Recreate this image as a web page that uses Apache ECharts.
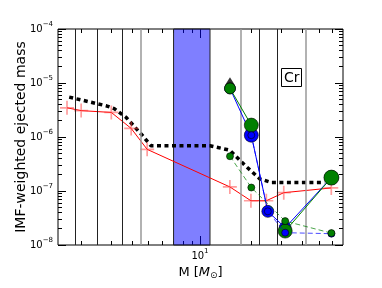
<!DOCTYPE html>
<html><head><meta charset="utf-8">
<script src="https://cdn.jsdelivr.net/npm/echarts@6/dist/echarts.min.js"></script>
<style>html,body{margin:0;padding:0;background:#fff}#c{width:382px;height:288px}</style>
</head><body><div id="c"></div>
<script>
// ---- data ----
const xMin = 1.47, xMax = 69;
const yMin = 1e-8, yMax = 1e-4;
const xMinorTicks = [2, 3, 4, 5, 6, 7, 8, 9, 20, 30, 40, 50, 60];
const xMajorTicks = [10];
const yMajorTicks = [1e-8, 1e-7, 1e-6, 1e-5, 1e-4];
const vLinesDark = [1.85, 2.5, 3.5, 22.2, 28.5];
const vLinesGrey = [4.5, 17.4, 41.7];
const bandRange = [7, 11.45];

const dottedMass = [1.71, 2.82, 3.14, 3.69, 4.58, 5.15, 11.44, 14.97, 18.33, 22.43, 26.27, 53.8];
const dottedVal = [5.47e-6, 3.78e-6, 3.35e-6, 2.30e-6, 1.08e-6, 6.9e-7, 6.9e-7, 5.69e-7, 3.0e-7, 1.68e-7, 1.43e-7, 1.43e-7];

const redMass = [1.66, 2.01, 3.02, 3.95, 4.9, 14.97, 19.9, 24.5, 31, 58.9];
const redVal = [3.47e-6, 3.08e-6, 2.85e-6, 1.44e-6, 5.9e-7, 1.19e-7, 6.6e-8, 6.6e-8, 9.3e-8, 1.14e-7];

const modelMass = [15, 20, 25, 31.6, 59];
const greenSolidVal = [7.94e-6, 1.66e-6, null, 1.81e-8, 1.77e-7];
const blueSolidVal = [7.94e-6, 1.08e-6, 4.2e-8, 2.09e-8, 1.77e-7];
const greenDashedVal = [4.4e-7, 1.16e-7, null, 2.77e-8, 1.66e-8];
const blueDashedVal = [null, 1.08e-6, 4.2e-8, 1.69e-8, 1.62e-8];
const crMarkerMass = [15];
const crMarkerVal = [9.1e-6];
const elementLabel = 'Cr';

// ---- styles ----
const greenSolidSize = [11, 14, 0, 14, 15];
const blueSolidSize = [11, 14, 12, 12, 14];
const FONT = 'DejaVu Sans';

const yMinorTicks = [];
for (let e = -8; e < -4; e++) for (let k = 2; k <= 9; k++) yMinorTicks.push(k * Math.pow(10, e));

const pairs = (xs, ys) => xs.map((x, i) => [x, ys[i] === null ? null : ys[i]]);
const sized = (xs, ys, sz) => xs.map((x, i) => ({ value: [x, ys[i]], symbolSize: sz[i] }));

const supRich = {
  a: { fontSize: 10, fontFamily: FONT, color: '#000', lineHeight: 16 },
  b: { fontSize: 7, fontFamily: FONT, color: '#000', verticalAlign: 'top', lineHeight: 16 }
};

function xAx(pos, ticks, len, label) {
  return {
    type: 'log', logBase: 10, min: xMin, max: xMax, position: pos, gridIndex: 0,
    axisLine: { show: false },
    axisTick: { show: true, inside: true, length: len, customValues: ticks, lineStyle: { color: '#000', width: 1 } },
    axisLabel: label ? {
      show: true, customValues: xMajorTicks, margin: 3,
      formatter: v => '{a|10}{b|' + Math.round(Math.log10(v)) + '}', rich: supRich
    } : { show: false },
    splitLine: { show: false }, minorTick: { show: false }
  };
}
function yAx(pos, ticks, len, label) {
  return {
    type: 'log', logBase: 10, min: yMin, max: yMax, position: pos, gridIndex: 0,
    axisLine: { show: false },
    axisTick: { show: true, inside: true, length: len, customValues: ticks, lineStyle: { color: '#000', width: 1 } },
    axisLabel: label ? {
      show: true, customValues: yMajorTicks, margin: 5,
      formatter: v => '{a|10}{b|\u2212' + Math.abs(Math.round(Math.log10(v))) + '}', rich: supRich
    } : { show: false },
    splitLine: { show: false }, minorTick: { show: false }
  };
}

const xAxes = [xAx('bottom', xMinorTicks, 4, true), xAx('bottom', xMajorTicks, 9, false),
               xAx('top', xMinorTicks, 4, false), xAx('top', xMajorTicks, 9, false)];
Object.assign(xAxes[0], {
  name: '{n|M [}{i|M}{s|\u2299}{n|]}', nameLocation: 'middle', nameGap: 18,
  nameTextStyle: { rich: {
    n: { fontSize: 13, fontFamily: FONT, color: '#000' },
    i: { fontSize: 13, fontFamily: FONT, fontStyle: 'italic', color: '#000' },
    s: { fontSize: 9, fontFamily: FONT, color: '#000', verticalAlign: 'bottom', padding: [6, 0, 0, 0] }
  } }
});
const yAxes = [yAx('left', yMinorTicks, 4, true), yAx('left', yMajorTicks, 8, false),
               yAx('right', yMinorTicks, 4, false), yAx('right', yMajorTicks, 8, false)];
Object.assign(yAxes[0], {
  name: 'IMF-weighted ejected mass', nameLocation: 'middle', nameGap: 30, nameMoveOverlap: false,
  nameTextStyle: { fontSize: 14, fontFamily: FONT, color: '#000' }
});

const circleItem = (c) => ({ color: c, borderColor: '#000', borderWidth: 0.6 });

const option = {
  animation: false,
  backgroundColor: '#fff',
  title: {
    text: elementLabel, left: 281, top: 68,
    padding: [3, 2, 2, 3], borderColor: '#000', borderWidth: 1, backgroundColor: '#fff',
    textStyle: { fontSize: 14, fontWeight: 'normal', fontFamily: FONT, color: '#000' }
  },
  grid: { left: 58, right: 39, top: 29, bottom: 43, show: true, borderColor: '#000', borderWidth: 1, backgroundColor: 'transparent' },
  xAxis: xAxes,
  yAxis: yAxes,
  series: [
    {
      name: 'bg', type: 'line', data: [], z: 1, silent: true,
      markArea: { silent: true, itemStyle: { color: 'rgba(0,0,255,0.5)', borderColor: '#222', borderWidth: 1 },
        data: [[{ xAxis: bandRange[0] }, { xAxis: bandRange[1] }]] },
      markLine: { silent: true, symbol: ['none', 'none'], label: { show: false },
        data: vLinesDark.map(m => ({ xAxis: m, lineStyle: { color: '#222', width: 1, type: 'solid' } }))
          .concat(vLinesGrey.map(m => ({ xAxis: m, lineStyle: { color: '#999', width: 1.5, type: 'solid' } }))) }
    },
    {
      name: 'total', type: 'line', data: pairs(dottedMass, dottedVal), z: 3, symbol: 'none',
      lineStyle: { color: '#000', width: 3.5, type: [4, 3.5], cap: 'butt' }
    },
    {
      name: 'red', type: 'line', data: pairs(redMass, redVal), z: 4,
      symbol: 'path://M0,4.4H10V5.6H0Z M4.4,0H5.6V10H4.4Z', symbolSize: 14, showAllSymbol: true,
      itemStyle: { color: 'rgba(255,60,60,0.5)' },
      lineStyle: { color: '#ff0000', width: 1 }
    },
    {
      name: 'blueSolid', type: 'line', data: sized(modelMass, blueSolidVal, blueSolidSize), z: 5,
      symbol: 'circle', showAllSymbol: true, itemStyle: circleItem('#0000ff'),
      lineStyle: { color: '#0000ff', width: 1 }
    },
    {
      name: 'marker', type: 'scatter', data: pairs(crMarkerMass, crMarkerVal), z: 5,
      symbol: 'diamond', symbolSize: [10, 16], itemStyle: { color: '#000' }
    },
    {
      name: 'greenSolid', type: 'line', data: sized(modelMass, greenSolidVal, greenSolidSize), z: 6,
      symbol: 'circle', showAllSymbol: true, itemStyle: circleItem('#008000'),
      lineStyle: { color: '#008000', width: 1 }
    },
    {
      name: 'blueDashed', type: 'line', data: pairs(modelMass, blueDashedVal), z: 7, connectNulls: true,
      symbol: 'circle', symbolSize: 7, showAllSymbol: true, itemStyle: circleItem('#0000ff'),
      lineStyle: { color: 'rgba(0,0,255,0.7)', width: 1, type: [5, 3] }
    },
    {
      name: 'greenDashed', type: 'line', data: pairs(modelMass, greenDashedVal), z: 8, connectNulls: true,
      symbol: 'circle', symbolSize: 7, showAllSymbol: true, itemStyle: circleItem('#008000'),
      lineStyle: { color: 'rgba(0,128,0,0.7)', width: 1, type: [5, 3] }
    }
  ]
};
const chart = echarts.init(document.getElementById('c'), null, { renderer: 'canvas' });
chart.setOption(option);
</script></body></html>
